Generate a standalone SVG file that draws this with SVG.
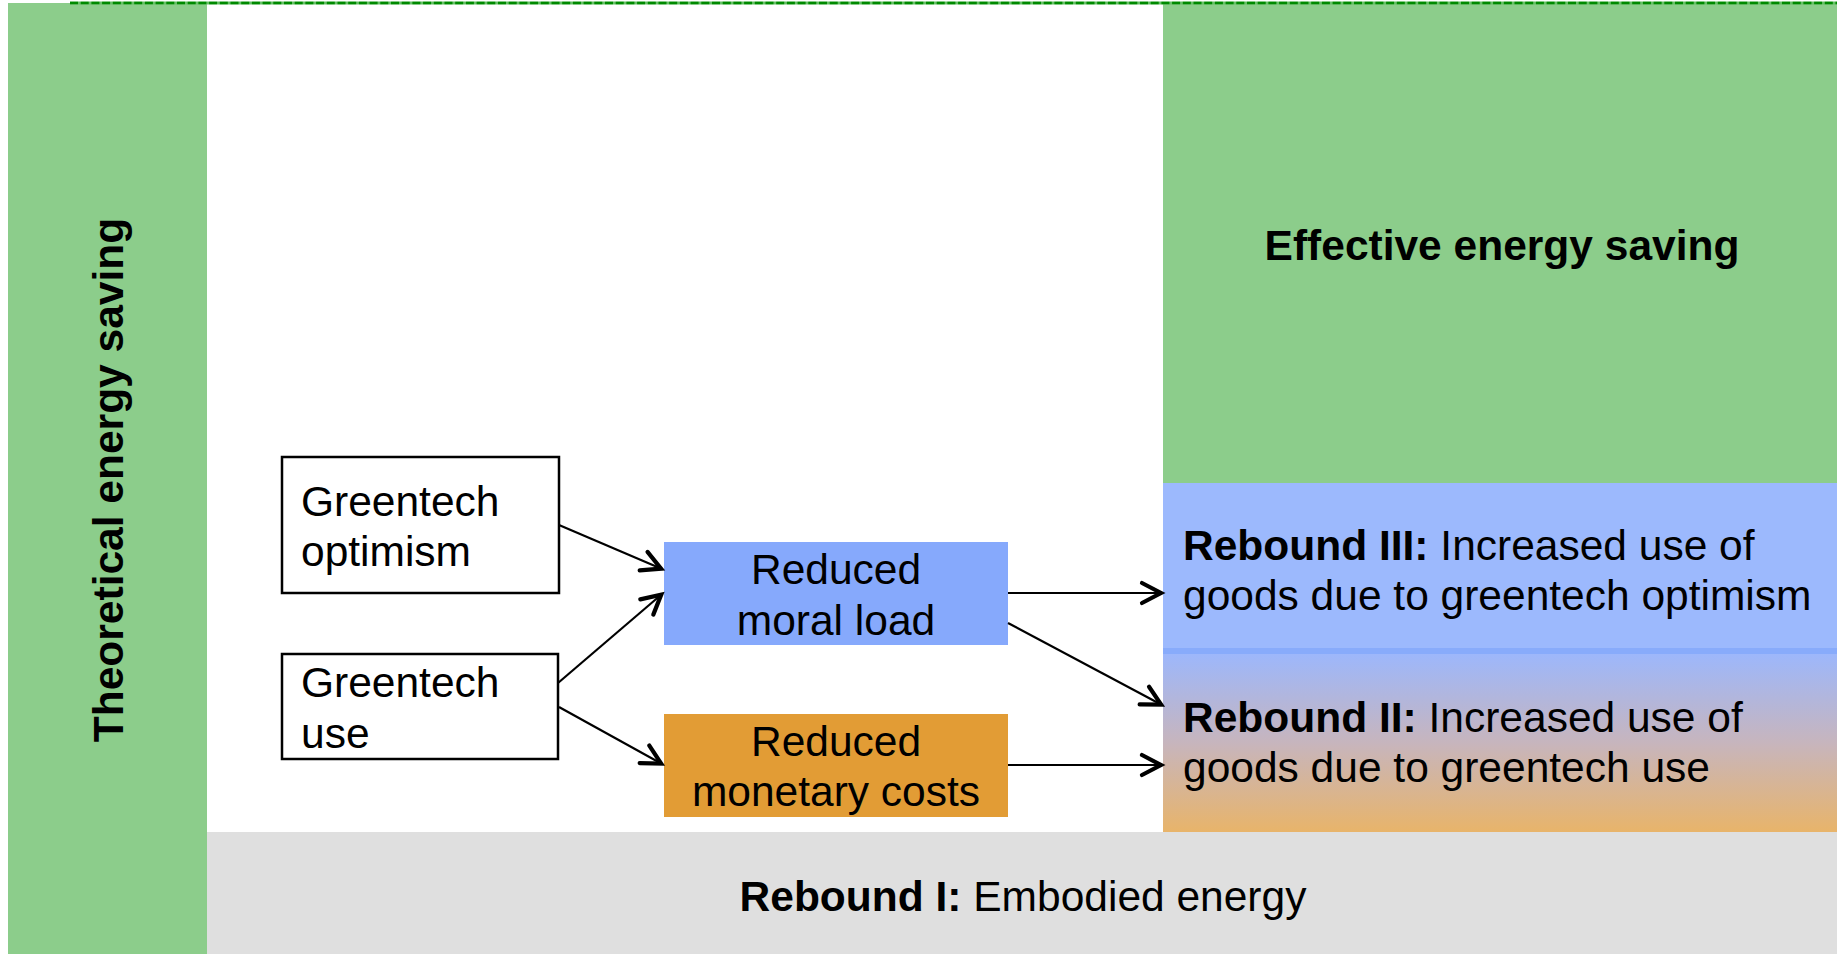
<svg xmlns="http://www.w3.org/2000/svg" width="1837" height="954" viewBox="0 0 1837 954">
  <style>
    .t { font-family: "Liberation Sans", Arial, Helvetica, sans-serif; font-size: 42.5px; fill: #000; }
    .b { font-weight: bold; }
    .mid { text-anchor: middle; }
    .box { fill: #fff; stroke: #000; stroke-width: 2.5; }
    .conn { stroke: #000; stroke-width: 2.2; fill: none; marker-end: url(#arrow); }
  </style>
  <defs>
    <marker id="arrow" markerUnits="userSpaceOnUse" markerWidth="40" markerHeight="40" refX="0" refY="0" orient="auto" overflow="visible">
      <path d="M -20 -10 L -1 0 L -20 10" fill="none" stroke="#000" stroke-width="4.2" stroke-linecap="round" stroke-linejoin="miter"/>
    </marker>
    <linearGradient id="r2grad" x1="0" y1="0" x2="0" y2="1">
      <stop offset="0" stop-color="#9db7fb"/>
      <stop offset="0.5" stop-color="#c7b5bd"/>
      <stop offset="1" stop-color="#e8b46a"/>
    </linearGradient>
  </defs>

  <rect width="1837" height="954" fill="#fff"/>

  <!-- Theoretical energy saving column -->
  <g id="theoretical">
    <rect x="8" y="3" width="199" height="951" fill="#8ccd8b"/>
    <text class="t b mid" transform="translate(123 480) rotate(-90)">Theoretical energy saving</text>
  </g>

  <!-- Effective energy saving -->
  <g id="effective">
    <rect x="1163" y="3" width="674" height="480" fill="#8ccd8b"/>
    <text class="t b mid" x="1502" y="260">Effective energy saving</text>
  </g>

  <!-- Rebound III -->
  <g id="rebound3">
    <rect x="1163" y="483" width="674" height="165" fill="#9cb9fd"/>
    <rect x="1163" y="648" width="674" height="6" fill="#88abfb"/>
    <text class="t" x="1183" y="560"><tspan class="b">Rebound III:</tspan> Increased use of</text>
    <text class="t" x="1183" y="610">goods due to greentech optimism</text>
  </g>

  <!-- Rebound II -->
  <g id="rebound2">
    <rect x="1163" y="654" width="674" height="178" fill="url(#r2grad)"/>
    <text class="t" x="1183" y="732"><tspan class="b">Rebound II:</tspan> Increased use of</text>
    <text class="t" x="1183" y="782">goods due to greentech use</text>
  </g>

  <!-- Rebound I -->
  <g id="rebound1">
    <rect x="207" y="832" width="1630" height="122" fill="#dfdfdf"/>
    <text class="t mid" x="1023" y="911"><tspan class="b">Rebound I:</tspan> Embodied energy</text>
  </g>

  <!-- top boundary -->
  <line x1="70" y1="3" x2="1837" y2="3" stroke="#66c066" stroke-width="3"/>
  <line x1="70" y1="3" x2="1837" y2="3" stroke="#008a00" stroke-width="2.5" stroke-dasharray="8 2.7"/>

  <g id="optimism">
    <rect class="box" x="282" y="457" width="277" height="136"/>
    <text class="t" x="301" y="516">Greentech</text>
    <text class="t" x="301" y="566">optimism</text>
  </g>

  <g id="use">
    <rect class="box" x="282" y="654" width="276" height="105"/>
    <text class="t" x="301" y="697">Greentech</text>
    <text class="t" x="301" y="748">use</text>
  </g>

  <g id="moral">
    <rect x="664" y="542" width="344" height="103" fill="#86a9fc"/>
    <text class="t mid" x="836" y="584">Reduced</text>
    <text class="t mid" x="836" y="635">moral load</text>
  </g>

  <g id="monetary">
    <rect x="664" y="714" width="344" height="103" fill="#e29c35"/>
    <text class="t mid" x="836" y="756">Reduced</text>
    <text class="t mid" x="836" y="806">monetary costs</text>
  </g>

  <g id="connectors">
    <line class="conn" x1="559" y1="525" x2="662" y2="569"/>
    <line class="conn" x1="558" y1="683" x2="662" y2="594"/>
    <line class="conn" x1="559" y1="707" x2="662" y2="764"/>
    <line class="conn" x1="1008" y1="593" x2="1162" y2="593"/>
    <line class="conn" x1="1008" y1="623" x2="1162" y2="705"/>
    <line class="conn" x1="1008" y1="765" x2="1162" y2="765"/>
  </g>
</svg>
